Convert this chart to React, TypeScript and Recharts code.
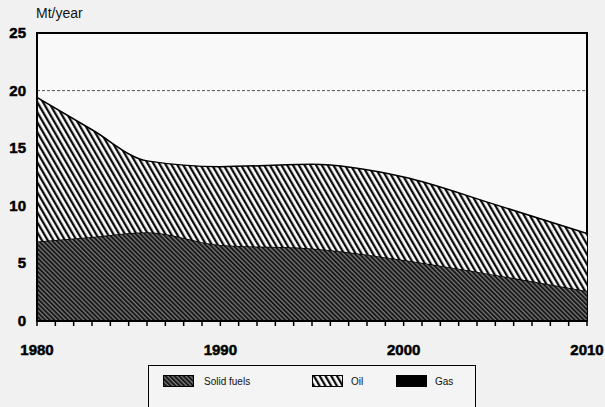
import React from 'react';
import { AreaChart, Area, XAxis, YAxis, ReferenceLine } from 'recharts';

const years = [1980, 1983, 1986, 1990, 1995, 2000, 2005, 2010];
const gas = [0, 0, 0, 0, 0, 0, 0, 0];
const solidFuels = [6.9, 7.3, 7.7, 6.6, 6.3, 5.3, 4.0, 2.6];
const oil = [12.5, 9.3, 6.2, 6.8, 7.3, 7.2, 6.1, 5.0];

const yTicks = [0, 5, 10, 15, 20, 25];
const yTickLabels = ['0', '5', '10', '15', '20', '25'];
const xTicks = Array.from({ length: 31 }, (_, i) => 1980 + i);
const xLabelled = [1980, 1990, 2000, 2010];

const data = years.map((year, i) => ({
  year,
  gas: gas[i],
  solid: solidFuels[i],
  oil: oil[i],
}));

const font = "'Liberation Sans', Arial, sans-serif";

const XTick = (props: any) => {
  const { x, y, payload } = props;
  const show = xLabelled.includes(payload.value);
  return (
    <g>
      <line x1={x} y1={y - 8} x2={x} y2={y - 3} stroke="#000" strokeWidth={1.5} />
      {show && (
        <text x={x} y={y + 26} textAnchor="middle" fontFamily={font} fontWeight={900} fontSize={15} fill="#000" stroke="#000" strokeWidth={0.5}>
          {payload.value}
        </text>
      )}
    </g>
  );
};

const YTick = (props: any) => {
  const { x, y, payload } = props;
  const idx = yTicks.indexOf(payload.value);
  return (
    <text x={x - 3} y={y + 5} textAnchor="end" fontFamily={font} fontWeight={900} fontSize={15} fill="#000" stroke="#000" strokeWidth={0.5}>
      {yTickLabels[idx]}
    </text>
  );
};

const Swatch = ({ fill }: { fill: string }) => (
  <svg width={31} height={12} style={{ verticalAlign: 'middle' }}>
    <rect x={0.5} y={0.5} width={30} height={11} fill={fill} stroke="#000" />
  </svg>
);

export default function App() {
  return (
    <div style={{ position: 'absolute', left: 0, top: 0, width: 605, height: 407, background: '#f1f1f1', overflow: 'hidden' }}>
      <div style={{ position: 'absolute', left: 36, top: 5, fontFamily: font, fontSize: 14, color: '#111' }}>Mt/year</div>
      <AreaChart width={605} height={407} data={data} margin={{ top: 33, right: 18, left: 0, bottom: 46 }}>
        <defs>
          <pattern id="oilHatch" patternUnits="userSpaceOnUse" width={5} height={5} patternTransform="rotate(-30)">
            <rect width={5} height={5} fill="#fdfdfd" />
            <line x1={1.2} y1={0} x2={1.2} y2={5} stroke="#000" strokeWidth={2.2} />
          </pattern>
          <pattern id="solidHatch" patternUnits="userSpaceOnUse" width={3.2} height={3.2} patternTransform="rotate(-45)">
            <rect width={3.2} height={3.2} fill="#777" />
            <line x1={1} y1={0} x2={1} y2={3.2} stroke="#111" strokeWidth={1.8} />
          </pattern>
        </defs>
        <rect x={37} y={33} width={550} height={288} fill="#f9f9f9" stroke="#000" strokeWidth={2} />
        <XAxis
          dataKey="year"
          type="number"
          domain={[1980, 2010]}
          ticks={xTicks}
          interval={0}
          tick={<XTick />}
          tickLine={false}
          axisLine={{ stroke: '#000', strokeWidth: 2 }}
          height={40}
        />
        <YAxis
          type="number"
          domain={[0, 25]}
          ticks={yTicks}
          interval={0}
          tick={<YTick />}
          tickLine={false}
          axisLine={{ stroke: '#000', strokeWidth: 2 }}
          width={37}
        />
        <ReferenceLine y={20} stroke="#555" strokeDasharray="3 2" strokeWidth={1} />
        <Area type="monotone" dataKey="gas" stackId="1" stroke="#000" fill="#000" strokeWidth={0} isAnimationActive={false} />
        <Area type="monotone" dataKey="solid" stackId="1" stroke="#000" fill="url(#solidHatch)" fillOpacity={1} strokeWidth={1.5} isAnimationActive={false} />
        <Area type="monotone" dataKey="oil" stackId="1" stroke="#000" fill="url(#oilHatch)" fillOpacity={1} strokeWidth={1.5} isAnimationActive={false} />
      </AreaChart>
      <div
        style={{
          position: 'absolute',
          left: 148,
          top: 365,
          width: 326,
          height: 60,
          border: '1.5px solid #000',
          background: '#f4f4f4',
          fontFamily: font,
          fontSize: 10,
          color: '#111',
        }}
      >
        <div style={{ position: 'absolute', left: 14, top: 9, display: 'flex', alignItems: 'center', gap: 10 }}>
          <Swatch fill="url(#solidHatch)" />
          <span>Solid fuels</span>
        </div>
        <div style={{ position: 'absolute', left: 163, top: 9, display: 'flex', alignItems: 'center', gap: 8 }}>
          <Swatch fill="url(#oilHatch)" />
          <span>Oil</span>
        </div>
        <div style={{ position: 'absolute', left: 247, top: 9, display: 'flex', alignItems: 'center', gap: 8 }}>
          <Swatch fill="#000" />
          <span>Gas</span>
        </div>
      </div>
    </div>
  );
}
